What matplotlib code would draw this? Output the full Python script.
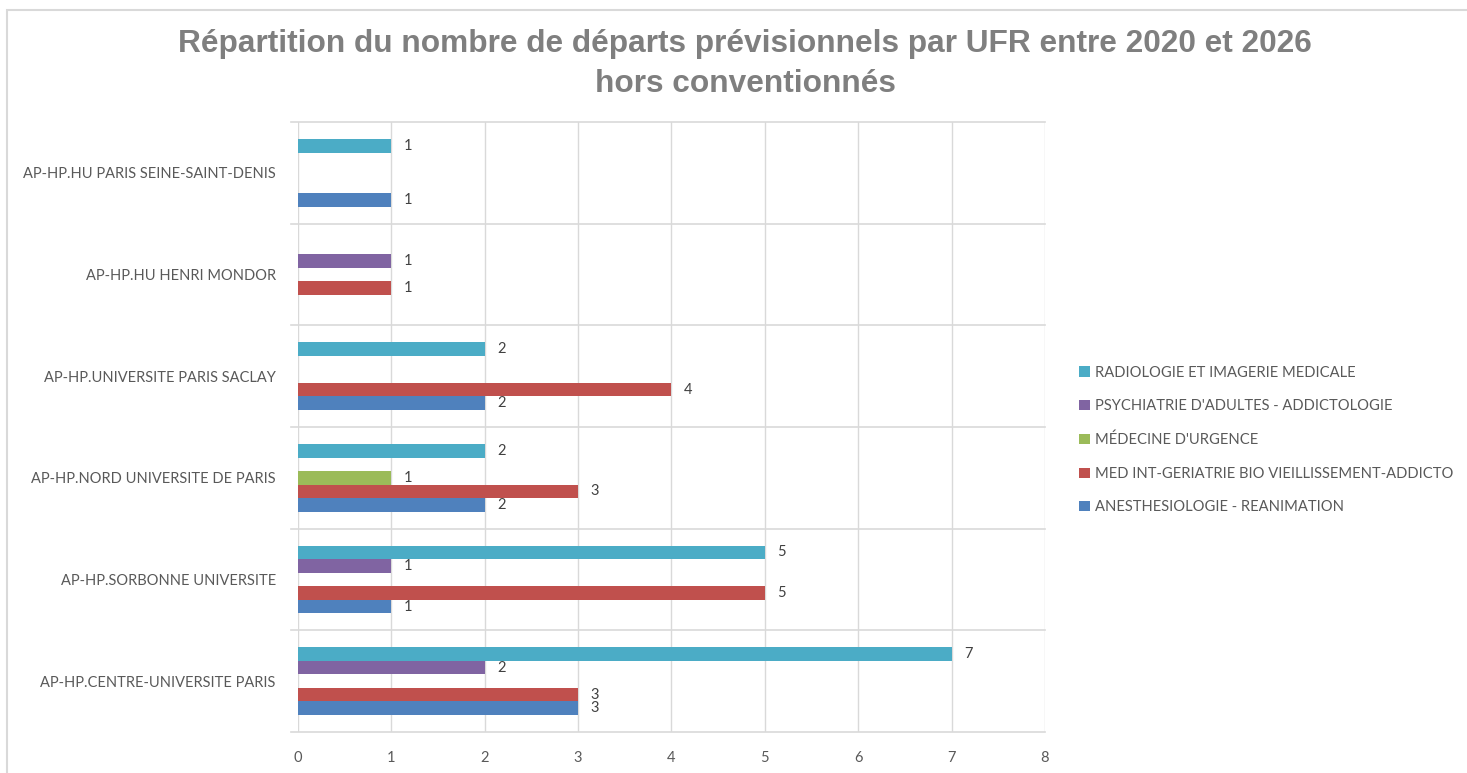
import matplotlib.pyplot as plt
from matplotlib.patches import Rectangle
import numpy as np

# categories bottom to top
ufrs = ["AP-HP.CENTRE-UNIVERSITE PARIS", "AP-HP.SORBONNE UNIVERSITE",
        "AP-HP.NORD UNIVERSITE DE PARIS", "AP-HP.UNIVERSITE PARIS SACLAY",
        "AP-HP.HU HENRI MONDOR", "AP-HP.HU PARIS SEINE-SAINT-DENIS"]

# series, drawn bottom to top inside each group
series_names = ["ANESTHESIOLOGIE - REANIMATION",
                "MED INT-GERIATRIE BIO VIEILLISSEMENT-ADDICTO",
                "MÉDECINE D'URGENCE",
                "PSYCHIATRIE D'ADULTES - ADDICTOLOGIE",
                "RADIOLOGIE ET IMAGERIE MEDICALE"]
anesth = [3, 1, 2, 2, 0, 1]
med_int = [3, 5, 3, 4, 1, 0]
urgence = [0, 0, 1, 0, 0, 0]
psychiatrie = [2, 1, 0, 0, 1, 0]
radiologie = [7, 5, 2, 2, 0, 1]
series_values = [anesth, med_int, urgence, psychiatrie, radiologie]
colors = ["#4F81BD", "#C0504D", "#9BBB59", "#8064A2", "#4BACC6"]

plt.rcParams['font.family'] = ['Lato', 'DejaVu Sans']

fig = plt.figure(figsize=(14.67, 7.73), dpi=100)
ax = fig.add_axes([298 / 1467, 1 - 732 / 773, (1045 - 298) / 1467, (732 - 122) / 773])

# chart frame
fig.patches.append(Rectangle((7 / 1467, -0.05), 1.1, 1 - 10 / 773 + 0.05,
                             transform=fig.transFigure, fill=False,
                             edgecolor="#d9d9d9", linewidth=1.5))

y = np.arange(len(ufrs))
bh = 0.133
handles = []
for i, (name, vals, col) in enumerate(zip(series_names, series_values, colors)):
    pos = y + (i - 2) * bh
    v = np.array(vals, dtype=float)
    mask = v > 0
    h = ax.barh(pos[mask], v[mask], height=bh, color=col, label=name, zorder=3)
    handles.append(h)
    for p, val in zip(pos[mask], v[mask]):
        ax.text(val + 0.13, p, f"{int(val)}", va="center", ha="left",
                fontsize=10.5, color="#404040", zorder=4)

ax.set_xlim(0, 8)
ax.set_ylim(-0.5, len(ufrs) - 0.5)
ax.set_xticks(range(9))
ax.set_yticks(y)
ax.set_yticklabels(ufrs)
ax.tick_params(axis="x", length=0, labelsize=10.5, labelcolor="#595959", pad=14)
ax.tick_params(axis="y", length=0, labelsize=10.5, labelcolor="#595959", pad=16)

for s in ax.spines.values():
    s.set_visible(False)
for xv in range(9):
    ax.axvline(xv, color="#d9d9d9", linewidth=1, zorder=1)
for yb in np.arange(-0.5, len(ufrs), 1.0):
    ax.plot([-0.07, 8], [yb, yb], color="#d9d9d9", linewidth=1.2, zorder=1,
            clip_on=False)

fig.text(745 / 1467, 1 - 64 / 773,
         "Répartition du nombre de départs prévisionnels par UFR entre 2020 et 2026\nhors conventionnés",
         ha="center", va="center", fontsize=22.8, fontweight="bold",
         color="#7f7f7f", family="Liberation Sans", linespacing=1.4)

leg = fig.legend(handles=handles[::-1], labels=series_names[::-1],
                 loc="center left", bbox_to_anchor=(1066 / 1467, 1 - 440 / 773),
                 frameon=False, fontsize=10.6, handlelength=0.7, handleheight=0.7,
                 handletextpad=0.4, labelspacing=1.33, labelcolor="#595959")

fig.savefig("out.png", dpi=100, facecolor="white")
